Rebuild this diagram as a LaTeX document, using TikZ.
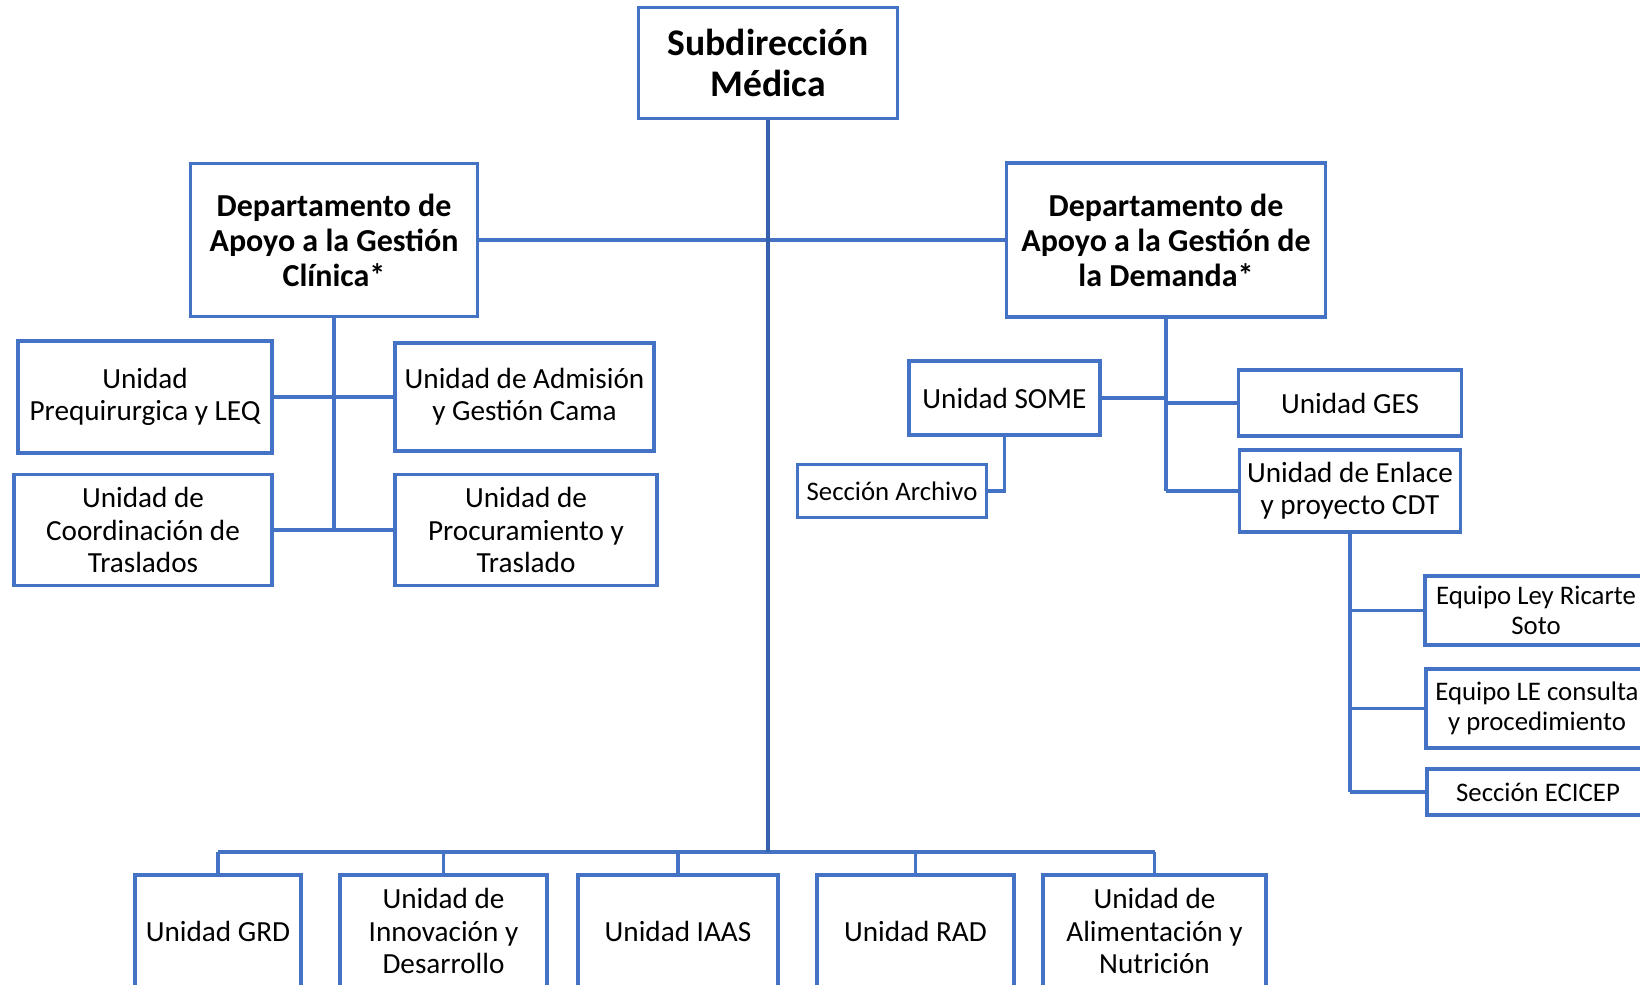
\documentclass[tikz,border=0pt]{standalone}
\usepackage{fontspec}
\setmainfont{Carlito}
\definecolor{boxblue}{HTML}{4472C4}
\definecolor{trunkblue}{HTML}{3760AE}
\tikzset{
  unitbox/.style={draw=boxblue,line width=1.6pt,fill=white,align=center,inner sep=2pt,
    font=\fontsize{14.6}{16.2}\selectfont},
  headbox/.style={unitbox,font=\bfseries\fontsize{16}{17.5}\selectfont},
  link/.style={draw=boxblue,line width=1.6pt}
}
\begin{document}
\begin{tikzpicture}[x=0.5pt,y=-0.5pt]
  \useasboundingbox (0,0) rectangle (1640,985);

  % top and departments
  \node[headbox,minimum width=129.5pt,minimum height=55.5pt,
        font=\bfseries\fontsize{18.8}{20.5}\selectfont] (sub) at (768,63) {Subdirección\\Médica};
  \node[headbox,minimum width=143.5pt,minimum height=76.5pt] (dclin) at (334,240) {Departamento de\\Apoyo a la Gestión\\Clínica*};
  \node[headbox,minimum width=159.5pt,minimum height=77pt] (ddem) at (1166,240) {Departamento de\\Apoyo a la Gestión de\\la Demanda*};

  % left units
  \node[unitbox,minimum width=127pt,minimum height=56pt] (upreq) at (145,397) {Unidad\\Prequirurgica y LEQ};
  \node[unitbox,minimum width=129.5pt,minimum height=54pt] (uadm) at (524.5,397) {Unidad de Admisión\\y Gestión Cama};
  \node[unitbox,minimum width=129pt,minimum height=55.5pt] (ucoor) at (143,530) {Unidad de\\Coordinación de\\Traslados};
  \node[unitbox,minimum width=131pt,minimum height=55.5pt] (uproc) at (526,530) {Unidad de\\Procuramiento y\\Traslado};

  % right units
  \node[unitbox,minimum width=95.5pt,minimum height=37pt] (usome) at (1004.5,398) {Unidad SOME};
  \node[unitbox,minimum width=111.5pt,minimum height=33pt] (uges) at (1350,403) {Unidad GES};
  \node[unitbox,minimum width=110.5pt,minimum height=41pt] (uenl) at (1350,491) {Unidad de Enlace\\y proyecto CDT};
  \node[unitbox,minimum width=94.5pt,minimum height=26.5pt,
        font=\fontsize{13.4}{15}\selectfont] (sarch) at (892,491) {Sección Archivo};
  \node[unitbox,minimum width=111pt,minimum height=34.5pt,
        font=\fontsize{13.4}{15.1}\selectfont] (eley) at (1536,610.5) {Equipo Ley Ricarte\\Soto};
  \node[unitbox,minimum width=111pt,minimum height=39.5pt,
        font=\fontsize{13.4}{15.1}\selectfont] (ele) at (1537,708.5) {Equipo LE consulta\\y procedimiento};
  \node[unitbox,minimum width=111pt,minimum height=23pt,
        font=\fontsize{13.4}{15.1}\selectfont] (secic) at (1538,792) {Sección ECICEP};

  % bottom row
  \node[unitbox,minimum width=83pt,minimum height=56pt] (ugrd) at (218,931) {Unidad GRD};
  \node[unitbox,minimum width=103.5pt,minimum height=56pt] (uinn) at (443.5,931) {Unidad de\\Innovación y\\Desarrollo};
  \node[unitbox,minimum width=100pt,minimum height=56pt] (uiaas) at (678,931) {Unidad IAAS};
  \node[unitbox,minimum width=98.5pt,minimum height=56pt] (urad) at (915.5,931) {Unidad RAD};
  \node[unitbox,minimum width=111.5pt,minimum height=56pt] (ualim) at (1154.5,931) {Unidad de\\Alimentación y\\Nutrición};

  \coordinate (bus) at (768,852);

  % connectors
  \draw[link] (dclin.east) -- (ddem.west);
  \draw[link] (ugrd.north |- bus) -- (ualim.north |- bus);
  \foreach \b in {ugrd,uinn,uiaas,urad,ualim}
    \draw[link] (\b.north) -- (\b.north |- bus);
  \draw[link,draw=trunkblue] (sub.south) -- (bus);

  \draw[link] (dclin.south) -- (dclin.south |- ucoor.east);
  \draw[link] (upreq.east) -- (uadm.west);
  \draw[link] (ucoor.east) -- (uproc.west);

  \draw[link] (ddem.south) -- (ddem.south |- uenl.west);
  \foreach \b in {usome,uges,uenl}
    \draw[link] (\b) -- (\b -| ddem.south);
  \draw[link] (usome.south) |- (sarch.east);

  \draw[link] (uenl.south) -- (uenl.south |- secic.west);
  \foreach \b in {eley,ele,secic}
    \draw[link] (\b.west) -- (\b.west -| uenl.south);
\end{tikzpicture}
\end{document}
